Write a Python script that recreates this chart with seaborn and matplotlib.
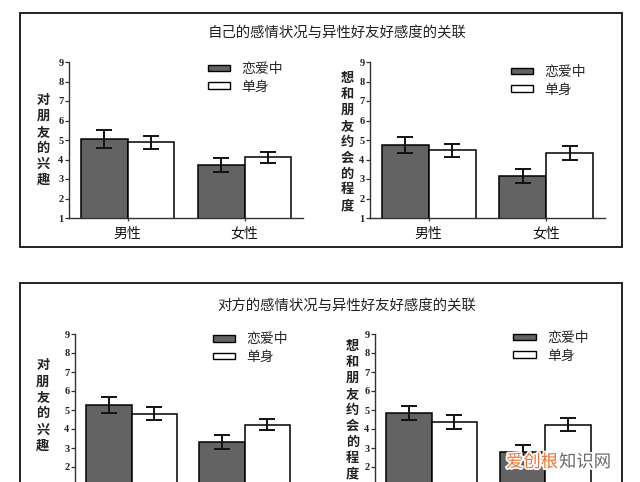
import pandas as pd
import seaborn as sns
import matplotlib.pyplot as plt
from matplotlib.patches import Rectangle, Patch
import matplotlib.patheffects as pe

sns.set_style('white')
plt.rcParams['font.family'] = ['Noto Sans CJK SC', 'DejaVu Sans']

genders = ['男性', '女性']
status = ['恋爱中', '单身']
yticks = [1, 2, 3, 4, 5, 6, 7, 8, 9]

# 自己的感情状况 - 对朋友的兴趣
self_interest_love = [5.05, 3.74]
self_interest_single = [4.88, 4.11]
self_interest_love_err = [0.45, 0.36]
self_interest_single_err = [0.34, 0.30]

# 自己的感情状况 - 想和朋友约会的程度
self_date_love = [4.74, 3.13]
self_date_single = [4.47, 4.33]
self_date_love_err = [0.40, 0.36]
self_date_single_err = [0.34, 0.36]

# 对方的感情状况 - 对朋友的兴趣
other_interest_love = [5.26, 3.32]
other_interest_single = [4.81, 4.23]
other_interest_love_err = [0.44, 0.36]
other_interest_single_err = [0.35, 0.29]

# 对方的感情状况 - 想和朋友约会的程度
other_date_love = [4.84, 2.77]
other_date_single = [4.37, 4.23]
other_date_love_err = [0.36, 0.40]
other_date_single_err = [0.35, 0.35]

dark = '#636363'
W, H = 640, 482


def px_axes(fig, x0, x1, ytop, ybot):
    return fig.add_axes([x0 / W, 1 - ybot / H, (x1 - x0) / W, (ybot - ytop) / H])


def panel(ax, love, single, love_err, single_err, ylabel, lab_x, lab_y, leg_xy, show_x=True):
    df = pd.DataFrame({
        'gender': genders * 2,
        'status': [status[0]] * 2 + [status[1]] * 2,
        'value': love + single,
    })
    sns.barplot(data=df, x='gender', y='value', hue='status', hue_order=status,
                palette=[dark, 'white'], edgecolor='black', linewidth=1.1,
                errorbar=None, width=0.8, legend=False, ax=ax)
    for cont, vals, errs in zip(ax.containers, [love, single], [love_err, single_err]):
        xs = [p.get_x() + p.get_width() / 2 for p in cont]
        ax.errorbar(xs, vals, yerr=errs, fmt='none', ecolor='#111111',
                    elinewidth=1.4, capsize=5.5, capthick=1.4, zorder=5)
    ax.set_ylim(1, 9)
    ax.set_xlim(-0.5, 1.5)
    ax.set_yticks(yticks)
    ax.set_xlabel('')
    ax.set_ylabel('')
    for s in ['top', 'right']:
        ax.spines[s].set_visible(False)
    for s in ['left', 'bottom']:
        ax.spines[s].set_color('#333333')
        ax.spines[s].set_linewidth(1.0)
    ax.tick_params(axis='y', direction='out', length=3, width=0.9, color='#333333',
                   pad=1, left=True)
    ax.tick_params(axis='x', direction='out', length=2.5, width=0.9, color='#333333',
                   pad=4, bottom=True, labelsize=10, labelbottom=show_x)
    for t in ax.get_yticklabels():
        t.set_fontfamily('Liberation Serif')
        t.set_fontweight('bold')
        t.set_fontsize(7.5)
        t.set_color('#222222')
    for t in ax.get_xticklabels():
        t.set_color('#111111')
    ax.text(lab_x, lab_y, '\n'.join(ylabel), transform=ax.transAxes, ha='center',
            va='center', fontsize=9.5, fontweight='bold', linespacing=1.18,
            color='#222222')
    handles = [Patch(facecolor=dark, edgecolor='black', linewidth=1.0),
               Patch(facecolor='white', edgecolor='black', linewidth=1.0)]
    ax.legend(handles, status, loc='upper left', bbox_to_anchor=leg_xy, frameon=False,
              fontsize=10, handlelength=1.6, handleheight=0.35, handletextpad=0.8,
              labelspacing=0.25, borderpad=0, borderaxespad=0)


fig = plt.figure(figsize=(6.4, 4.82), dpi=100)

fig.patches.append(Rectangle((20 / W, 1 - 247 / H), 602 / W, 234 / H, transform=fig.transFigure,
                             fill=False, edgecolor='#222222', linewidth=1.4))
fig.patches.append(Rectangle((20 / W, -0.1), 602 / W, 0.1 + (H - 283) / H, transform=fig.transFigure,
                             fill=False, edgecolor='#222222', linewidth=1.4))

fig.text(337 / W, 1 - 33 / H, '自己的感情状况与异性好友好感度的关联', ha='center', va='center',
         fontsize=10.4, color='#222222')
fig.text(347 / W, 1 - 306 / H, '对方的感情状况与异性好友好感度的关联', ha='center', va='center',
         fontsize=10.4, color='#222222')

ax1 = px_axes(fig, 69, 303, 62, 218)
panel(ax1, self_interest_love, self_interest_single, self_interest_love_err,
      self_interest_single_err, '对朋友的兴趣', -0.111, 0.5, (0.595, 1.0))
ax2 = px_axes(fig, 370, 605, 62, 218)
panel(ax2, self_date_love, self_date_single, self_date_love_err,
      self_date_single_err, '想和朋友约会的程度', -0.098, 0.49, (0.6, 0.98))
# bottom panels run past the lower edge of the picture, so their category labels are off-canvas
ax3 = px_axes(fig, 75, 301, 334, 486)
panel(ax3, other_interest_love, other_interest_single, other_interest_love_err,
      other_interest_single_err, '对朋友的兴趣', -0.142, 0.53, (0.61, 1.01), show_x=False)
ax4 = px_axes(fig, 375, 602, 334, 486)
panel(ax4, other_date_love, other_date_single, other_date_love_err,
      other_date_single_err, '想和朋友约会的程度', -0.1, 0.5, (0.61, 1.02), show_x=False)

# watermark
fig.text(506 / W, 1 - 462 / H, '爱创根', ha='left', va='center', fontsize=12.5,
         color='#e8753a', path_effects=[pe.withStroke(linewidth=2.5, foreground='white')])
fig.text(559 / W, 1 - 462 / H, '知识网', ha='left', va='center', fontsize=12.5,
         color='#6a6a6a', path_effects=[pe.withStroke(linewidth=2.5, foreground='white')])

fig.savefig('out.png', dpi=100)
